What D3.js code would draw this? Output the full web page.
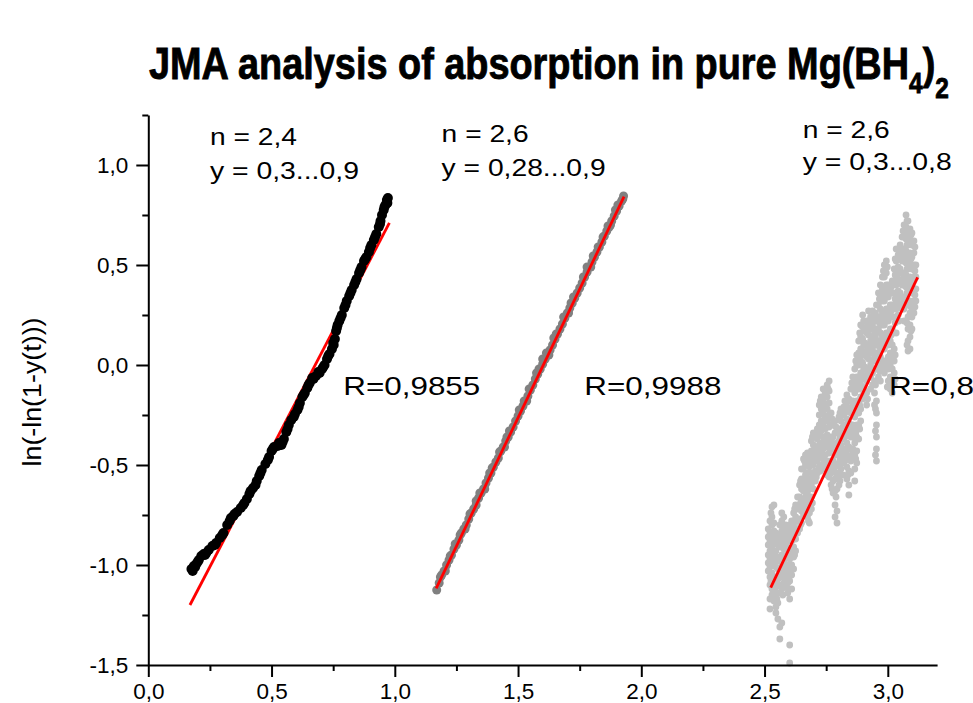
<!DOCTYPE html>
<html><head><meta charset="utf-8">
<script src="https://cdn.jsdelivr.net/npm/d3@7"></script>
<style>
body{margin:0;background:#fff;}
svg{display:block;}
text{font-family:"Liberation Sans",Arial,Helvetica,sans-serif;fill:#000;}
</style>
</head><body>
<svg id="chart" width="973" height="703"></svg>
<script>
// ---------------- data ----------------
const xDomain = [0, 3.2];
const yDomain = [-1.5, 1.25];
const xMajorTicks = [0, 0.5, 1.0, 1.5, 2.0, 2.5, 3.0];
const xMinorTicks = [0.25, 0.75, 1.25, 1.75, 2.25, 2.75];
const yMajorTicks = [-1.5, -1.0, -0.5, 0.0, 0.5, 1.0];
const yMinorTicks = [-1.25, -0.75, -0.25, 0.25, 0.75, 1.25];

const titleMain = "JMA analysis of absorption in pure Mg(BH";
const yLabel = "ln(-ln(1-y(t)))";

// series 1 (black): x, y
const series1 = [
[0.175,-1.02],[0.180,-1.03],[0.185,-1.005],[0.195,-0.995],[0.205,-0.975],[0.215,-0.955],
[0.225,-0.945],[0.235,-0.94],[0.245,-0.925],[0.26,-0.905],[0.275,-0.89],[0.29,-0.865],
[0.305,-0.84],[0.32,-0.80],[0.335,-0.765],[0.345,-0.755],[0.36,-0.735],[0.375,-0.715],
[0.39,-0.69],[0.40,-0.67],[0.41,-0.645],[0.425,-0.615],[0.44,-0.58],[0.45,-0.555],
[0.46,-0.525],[0.475,-0.495],[0.49,-0.46],[0.50,-0.43],[0.51,-0.41],[0.525,-0.405],
[0.54,-0.40],[0.55,-0.37],[0.56,-0.335],[0.57,-0.30],[0.58,-0.275],[0.595,-0.245],
[0.605,-0.225],[0.615,-0.19],[0.625,-0.16],[0.635,-0.14],[0.645,-0.115],[0.655,-0.09],
[0.665,-0.065],[0.68,-0.055],[0.695,-0.04],[0.705,-0.02],[0.715,0.00],[0.725,0.03],
[0.735,0.055],[0.745,0.08],[0.752,0.10],[0.757,0.13],[0.762,0.17],[0.768,0.20],
[0.775,0.22],[0.785,0.25],[0.795,0.285],[0.805,0.32],[0.815,0.345],[0.825,0.375],
[0.835,0.40],[0.845,0.43],[0.855,0.46],[0.865,0.49],[0.875,0.52],[0.885,0.54],
[0.895,0.565],[0.905,0.60],[0.915,0.625],[0.925,0.655],[0.935,0.69],[0.942,0.72],
[0.948,0.75],[0.955,0.775],[0.962,0.80],[0.968,0.825],[0.972,0.835],
[0.19,-1.01],[0.20,-0.985],[0.23,-0.95],[0.27,-0.90],[0.30,-0.85],[0.33,-0.78],
[0.35,-0.745],[0.385,-0.70],[0.415,-0.63],[0.435,-0.60],[0.455,-0.54],[0.485,-0.475],
[0.505,-0.42],[0.53,-0.39],[0.545,-0.385],[0.565,-0.32],[0.59,-0.26],[0.61,-0.21],
[0.63,-0.15],[0.65,-0.10],[0.67,-0.07],[0.69,-0.035],[0.71,-0.01],[0.73,0.045],
[0.75,0.11],[0.765,0.185],[0.78,0.235],[0.80,0.30],[0.82,0.36],[0.84,0.415],
[0.86,0.475],[0.88,0.53],[0.90,0.585],[0.92,0.64],[0.94,0.705],[0.958,0.79],[0.97,0.81]
];

// series 2 (grey): x, y
const series2 = [
[1.170,-1.125],[1.180,-1.09],[1.190,-1.05],[1.200,-1.03],[1.210,-1.00],[1.220,-0.975],
[1.230,-0.95],[1.240,-0.92],[1.250,-0.90],[1.260,-0.875],[1.270,-0.84],[1.280,-0.82],
[1.290,-0.80],[1.300,-0.77],[1.310,-0.74],[1.320,-0.72],[1.330,-0.70],[1.340,-0.665],
[1.350,-0.64],[1.360,-0.62],[1.370,-0.59],[1.380,-0.565],[1.390,-0.54],[1.400,-0.51],
[1.410,-0.485],[1.420,-0.465],[1.430,-0.43],[1.440,-0.41],[1.450,-0.38],[1.460,-0.36],
[1.470,-0.335],[1.480,-0.31],[1.490,-0.28],[1.500,-0.255],[1.510,-0.23],[1.520,-0.205],
[1.530,-0.18],[1.540,-0.155],[1.550,-0.125],[1.560,-0.10],[1.570,-0.07],[1.580,-0.045],
[1.590,-0.02],[1.600,0.005],[1.610,0.03],[1.620,0.05],[1.630,0.075],[1.640,0.10],
[1.650,0.13],[1.660,0.155],[1.670,0.18],[1.680,0.205],[1.690,0.235],[1.700,0.26],
[1.710,0.285],[1.720,0.31],[1.730,0.335],[1.740,0.36],[1.750,0.385],[1.760,0.41],
[1.770,0.44],[1.780,0.465],[1.790,0.49],[1.800,0.515],[1.810,0.54],[1.820,0.565],
[1.830,0.59],[1.840,0.615],[1.850,0.645],[1.860,0.67],[1.870,0.69],[1.880,0.72],
[1.890,0.745],[1.900,0.77],[1.910,0.795],[1.920,0.82],[1.928,0.845],
[1.245,-0.895],[1.33,-0.68],[1.395,-0.515],[1.455,-0.36],[1.525,-0.18],[1.585,-0.02],
[1.60,0.03],[1.655,0.155],[1.715,0.31],[1.78,0.49],[1.845,0.64],[1.895,0.775],
[1.185,-1.06],[1.225,-0.955],[1.265,-0.85],[1.305,-0.745],[1.345,-0.64],[1.385,-0.54],
[1.425,-0.435],[1.465,-0.33],[1.505,-0.225],[1.545,-0.12],[1.575,-0.04],[1.615,0.06],
[1.645,0.135],[1.685,0.24],[1.725,0.34],[1.765,0.44],[1.805,0.545],[1.825,0.59],
[1.865,0.695],[1.905,0.80],[1.925,0.83],
[1.205,-1.03],[1.285,-0.82],[1.365,-0.62],[1.445,-0.41],[1.535,-0.18],[1.625,0.05],
[1.705,0.26],[1.795,0.49],[1.875,0.70]
];

// series 3 (light grey): columns [x, [y values]]
const series3Columns = [
[2.515,[-0.82,-0.86,-0.90,-0.95,-0.99,-1.03]],
[2.522,[-0.78,-0.84,-0.88,-0.93,-0.97,-1.01,-1.06,-1.10,-1.17,-1.22]],
[2.526,[-0.74,-0.87,-0.99,-1.08]],
[2.530,[-0.71,-0.76,-0.80,-0.85,-0.91,-0.96,-1.04,-1.12,-1.15]],
[2.538,[-0.70,-0.79,-0.83,-0.89,-0.94,-0.99,-1.08,-1.13,-1.18]],
[2.546,[-0.84,-0.88,-0.93,-1.01,-1.06,-1.11,-1.16,-1.21,-1.24]],
[2.550,[-0.86,-0.98,-1.09,-1.17]],
[2.554,[-0.90,-0.96,-1.02,-1.07,-1.14,-1.19,-1.27]],
[2.562,[-0.80,-0.85,-0.91,-0.97,-1.04,-1.10,-1.31,-1.37]],
[2.570,[-0.74,-0.78,-0.83,-0.88,-0.95,-1.00,-1.06,-1.12,-1.29]],
[2.574,[-0.80,-0.90,-1.02,-1.15]],
[2.578,[-0.76,-0.81,-0.86,-0.92,-0.98,-1.03,-1.09]],
[2.586,[-0.80,-0.84,-0.90,-0.96,-1.01,-1.06,-1.11]],
[2.594,[-0.83,-0.88,-0.94,-1.00,-1.05,-1.09,-1.14]],
[2.598,[-0.85,-0.95,-1.06,-1.12]],
[2.602,[-0.80,-0.86,-0.92,-0.97,-1.03,-1.08,-1.17,-1.40,-1.49]],
[2.610,[-0.78,-0.83,-0.88,-0.94,-1.00,-1.05,-1.12]],
[2.618,[-0.74,-0.80,-0.85,-0.91,-0.96,-1.02]],
[2.622,[-0.72,-0.84,-0.95]],
[2.626,[-0.70,-0.76,-0.82,-0.87,-0.93]],
[2.634,[-0.66,-0.72,-0.78,-0.84]],
[2.642,[-0.60,-0.66,-0.71,-0.77,-0.82]],
[2.646,[-0.58,-0.69,-0.80]],
[2.650,[-0.52,-0.57,-0.62,-0.68,-0.73,-0.79]],
[2.658,[-0.47,-0.52,-0.58,-0.63,-0.69,-0.75]],
[2.662,[-0.48,-0.60,-0.70]],
[2.666,[-0.45,-0.50,-0.55,-0.61,-0.66,-0.72]],
[2.674,[-0.44,-0.49,-0.54,-0.59,-0.64,-0.70,-0.76]],
[2.678,[-0.47,-0.57,-0.67,-0.78]],
[2.682,[-0.46,-0.51,-0.57,-0.62,-0.68,-0.74,-0.79]],
[2.690,[-0.38,-0.43,-0.48,-0.54,-0.60,-0.66,-0.72]],
[2.694,[-0.36,-0.46,-0.58,-0.69]],
[2.698,[-0.34,-0.40,-0.45,-0.50,-0.56,-0.62]],
[2.706,[-0.36,-0.42,-0.47,-0.53,-0.58]],
[2.710,[-0.34,-0.45,-0.56]],
[2.714,[-0.32,-0.37,-0.43,-0.48,-0.54]],
[2.722,[-0.20,-0.25,-0.30,-0.35,-0.40,-0.46,-0.51]],
[2.726,[-0.18,-0.33,-0.43,-0.53]],
[2.730,[-0.16,-0.22,-0.28,-0.33,-0.39,-0.44,-0.50]],
[2.738,[-0.12,-0.18,-0.24,-0.30,-0.36,-0.42,-0.47]],
[2.742,[-0.16,-0.28,-0.40,-0.50]],
[2.746,[-0.14,-0.20,-0.26,-0.32,-0.38,-0.45,-0.52]],
[2.754,[-0.10,-0.16,-0.22,-0.28,-0.35,-0.41,-0.48,-0.55]],
[2.758,[-0.12,-0.26,-0.39,-0.52]],
[2.762,[-0.08,-0.13,-0.19,-0.25,-0.31,-0.37,-0.44,-0.50,-0.56]],
[2.770,[-0.24,-0.30,-0.36,-0.42,-0.48,-0.54,-0.60]],
[2.774,[-0.27,-0.39,-0.51,-0.62]],
[2.778,[-0.30,-0.36,-0.42,-0.48,-0.53,-0.58,-0.64]],
[2.786,[-0.28,-0.34,-0.40,-0.45,-0.51,-0.57,-0.63,-0.70,-0.76]],
[2.790,[-0.31,-0.42,-0.54,-0.66]],
[2.794,[-0.33,-0.39,-0.44,-0.50,-0.56,-0.62,-0.73,-0.79]],
[2.802,[-0.26,-0.32,-0.38,-0.43,-0.49,-0.55,-0.60]],
[2.806,[-0.24,-0.36,-0.47,-0.58]],
[2.810,[-0.22,-0.28,-0.34,-0.40,-0.46,-0.52]],
[2.818,[-0.25,-0.31,-0.37,-0.43,-0.49,-0.55]],
[2.822,[-0.21,-0.34,-0.46]],
[2.826,[-0.18,-0.24,-0.30,-0.36,-0.42,-0.48]],
[2.834,[-0.15,-0.21,-0.27,-0.33,-0.39,-0.45,-0.51,-0.57]],
[2.838,[-0.18,-0.30,-0.42,-0.55]],
[2.842,[-0.17,-0.23,-0.29,-0.35,-0.41,-0.47,-0.53,-0.60,-0.65]],
[2.850,[-0.12,-0.18,-0.24,-0.30,-0.36,-0.42,-0.48,-0.54]],
[2.854,[-0.09,-0.21,-0.33,-0.45]],
[2.858,[-0.06,-0.12,-0.18,-0.24,-0.30,-0.36,-0.42]],
[2.866,[-0.02,-0.08,-0.14,-0.20,-0.26,-0.33,-0.39,-0.45,-0.52,-0.58]],
[2.870,[0.02,-0.10,-0.22,-0.34,-0.47]],
[2.874,[0.05,0.00,-0.06,-0.12,-0.18,-0.24,-0.30,-0.36,-0.43,-0.49]],
[2.882,[0.12,0.06,0.00,-0.06,-0.12,-0.18,-0.24,-0.30,-0.37]],
[2.886,[0.16,0.04,-0.08,-0.20,-0.32]],
[2.890,[0.20,0.14,0.08,0.02,-0.04,-0.10,-0.16,-0.22,-0.28]],
[2.898,[0.25,0.19,0.13,0.07,0.01,-0.05,-0.11,-0.17]],
[2.902,[0.22,0.10,-0.02,-0.14]],
[2.906,[0.17,0.11,0.05,-0.01,-0.07,-0.13]],
[2.914,[0.22,0.16,0.10,0.04,-0.02,-0.08,-0.14,-0.20]],
[2.918,[0.19,0.07,-0.05,-0.17]],
[2.922,[0.27,0.21,0.15,0.09,0.03,-0.03]],
[2.930,[0.24,0.18,0.12,0.06,0.00,-0.06,-0.12]],
[2.934,[0.21,0.09,-0.03]],
[2.938,[0.27,0.20,0.14,0.08,0.02,-0.04,-0.10]],
[2.946,[0.22,0.16,0.10,0.04,-0.02,-0.08,-0.14,-0.20]],
[2.950,[0.26,0.14,0.02,-0.10,-0.22,-0.33,-0.45]],
[2.954,[0.30,0.24,0.18,0.12,0.06,-0.18,-0.24,-0.30,-0.36,-0.42,-0.48]],
[2.962,[0.36,0.30,0.24,0.18,0.12,0.06,0.00,-0.06]],
[2.966,[0.33,0.21,0.09,-0.03]],
[2.970,[0.40,0.34,0.28,0.22,0.16,0.10,0.04,-0.02,-0.08]],
[2.978,[0.44,0.38,0.32,0.26,0.20,0.14,0.08,0.02]],
[2.982,[0.47,0.35,0.23,0.11,-0.01]],
[2.986,[0.50,0.44,0.38,0.32,0.26,0.20,0.14,0.08,0.02,-0.04]],
[2.994,[0.52,0.46,0.40,0.34,0.28,0.22,0.16,0.10]],
[2.998,[0.49,0.37,0.25,0.13,0.01,-0.11]],
[3.002,[0.40,0.34,0.28,0.22,0.16,0.10,0.04,-0.02,-0.08]],
[3.010,[0.36,0.30,0.24,0.18,0.12,0.06,0.00,-0.06,-0.12]],
[3.014,[0.39,0.27,0.15,0.03,-0.09]],
[3.018,[0.42,0.36,0.30,0.24,0.18,0.10,0.04,-0.02,-0.08,-0.14]],
[3.026,[0.48,0.42,0.36,0.30,0.24,0.08,0.02,-0.04,-0.10]],
[3.030,[0.53,0.45,0.33,0.21,0.05,-0.07]],
[3.034,[0.58,0.52,0.46,0.40,0.34,0.28,0.22,0.16]],
[3.042,[0.55,0.49,0.43,0.37,0.31,0.25]],
[3.046,[0.57,0.46,0.34,0.22]],
[3.050,[0.60,0.54,0.48,0.42,0.36,0.30]],
[3.058,[0.64,0.58,0.52,0.46,0.40,0.34,0.28]],
[3.062,[0.67,0.55,0.43,0.31]],
[3.066,[0.70,0.64,0.58,0.52,0.46,0.40,0.34,0.28,0.22]],
[3.074,[0.75,0.69,0.63,0.57,0.51,0.45,0.39]],
[3.078,[0.72,0.60,0.48,0.36,0.21,0.10]],
[3.082,[0.72,0.66,0.60,0.54,0.48,0.42,0.36,0.30,0.24,0.18,0.12,0.07]],
[3.090,[0.68,0.62,0.56,0.50,0.44,0.38,0.32,0.26,0.20,0.14,0.08]],
[3.094,[0.65,0.53,0.41,0.29,0.17]],
[3.098,[0.66,0.60,0.54,0.48,0.42,0.36,0.30,0.24,0.18]],
[3.106,[0.62,0.56,0.50,0.44,0.38,0.32,0.26]],
[3.110,[0.59,0.47,0.35,0.29]],
[3.114,[0.50,0.44,0.38,0.32]]
];

// linear fits: [x0, y0, x1, y1]
const fitLines = [
[0.169,-1.200,0.978,0.711],
[1.168,-1.117,1.930,0.842],
[2.525,-1.113,3.121,0.438]
];

// annotations (data-anchored)
const annotations = [
{t:"n = 2,4", x:0.25, y:1.10, w:87},
{t:"y = 0,3...0,9", x:0.25, y:0.93, w:149},
{t:"n = 2,6", x:1.19, y:1.117, w:87},
{t:"y = 0,28...0,9", x:1.19, y:0.945, w:164},
{t:"n = 2,6", x:2.655, y:1.133, w:87},
{t:"y = 0,3...0,8", x:2.655, y:0.975, w:149}
];
const rLabels = [
{t:"R=0,9855", x:0.791, y:-0.15, w:137},
{t:"R=0,9988", x:1.769, y:-0.15, w:137},
{t:"R=0,8", x:3.005, y:-0.15, w:85}
];

// ---------------- drawing ----------------
const svg = d3.select("#chart");
svg.append("rect").attr("width",973).attr("height",703).attr("fill","#fff");

const x = d3.scaleLinear().domain(xDomain).range([148.3, 937.1]);
const y = d3.scaleLinear().domain(yDomain).range([665, 115]);
const fmt = d => (d < 0 ? "-" : "") + Math.abs(d).toFixed(1).replace(".", ",");

function drawFit(f){
  svg.append("line")
    .attr("x1",x(f[0])).attr("y1",y(f[1]))
    .attr("x2",x(f[2])).attr("y2",y(f[3]))
    .attr("stroke","#ff0000").attr("stroke-width",2.8);
}
drawFit(fitLines[0]);

svg.append("g").selectAll("circle").data(series1).join("circle")
  .attr("cx",d=>x(d[0])).attr("cy",d=>y(d[1])).attr("r",5).attr("fill","#000");

svg.append("g").selectAll("circle").data(series2).join("circle")
  .attr("cx",d=>x(d[0])).attr("cy",d=>y(d[1])).attr("r",4.5).attr("fill","#808080");
drawFit(fitLines[1]);

const series3 = series3Columns.flatMap(c => c[1].map(v => [c[0], v]));
svg.append("g").selectAll("circle").data(series3).join("circle")
  .attr("cx",d=>x(d[0])).attr("cy",d=>y(d[1])).attr("r",3.4).attr("fill","#c0c0c0");
drawFit(fitLines[2]);

// axes
svg.append("g").attr("transform",`translate(0,${y(yDomain[0])})`)
  .call(d3.axisBottom(x).tickValues(xMajorTicks).tickSize(12).tickSizeOuter(0).tickPadding(6).tickFormat(fmt));
svg.append("g").attr("transform",`translate(0,${y(yDomain[0])})`)
  .call(d3.axisBottom(x).tickValues(xMinorTicks).tickSize(6).tickSizeOuter(0).tickFormat(""))
  .select(".domain").remove();
svg.append("g").attr("transform",`translate(${x(0)},0)`)
  .call(d3.axisLeft(y).tickValues(yMajorTicks).tickSize(12).tickSizeOuter(0).tickPadding(8).tickFormat(fmt));
svg.append("g").attr("transform",`translate(${x(0)},0)`)
  .call(d3.axisLeft(y).tickValues(yMinorTicks).tickSize(6).tickSizeOuter(0).tickFormat(""))
  .select(".domain").remove();

svg.selectAll(".domain, .tick line").attr("stroke","#000").attr("stroke-width",2);
svg.selectAll(".tick text").attr("font-size",22.5).attr("font-family","'Liberation Sans',Arial,sans-serif").attr("fill","#000");

// y label
svg.append("text")
  .attr("transform",`translate(41,392) rotate(-90)`)
  .attr("text-anchor","middle")
  .attr("font-size",25)
  .attr("textLength",149).attr("lengthAdjust","spacingAndGlyphs")
  .text(yLabel);

// title
const title = svg.append("text").attr("font-size",45).attr("font-weight","bold")
  .attr("stroke","#000").attr("stroke-width",0.9);
title.append("tspan").text(titleMain);
title.append("tspan").attr("font-size",29).attr("dy",14).text("4");
title.append("tspan").attr("dy",-14).text(")");
title.append("tspan").attr("font-size",29).attr("dy",19).text("2");
const tw = title.node().getComputedTextLength();
title.attr("transform",`translate(149,79) scale(${800/tw},1)`);

// annotations
annotations.forEach(a=>{
  svg.append("text").attr("x",x(a.x)).attr("y",y(a.y))
    .attr("font-size",23.5)
    .attr("textLength",a.w).attr("lengthAdjust","spacingAndGlyphs")
    .text(a.t);
});
rLabels.forEach(r=>{
  svg.append("text").attr("x",x(r.x)).attr("y",y(r.y))
    .attr("font-size",26.5)
    .attr("textLength",r.w).attr("lengthAdjust","spacingAndGlyphs")
    .text(r.t);
});
</script>
</body></html>
